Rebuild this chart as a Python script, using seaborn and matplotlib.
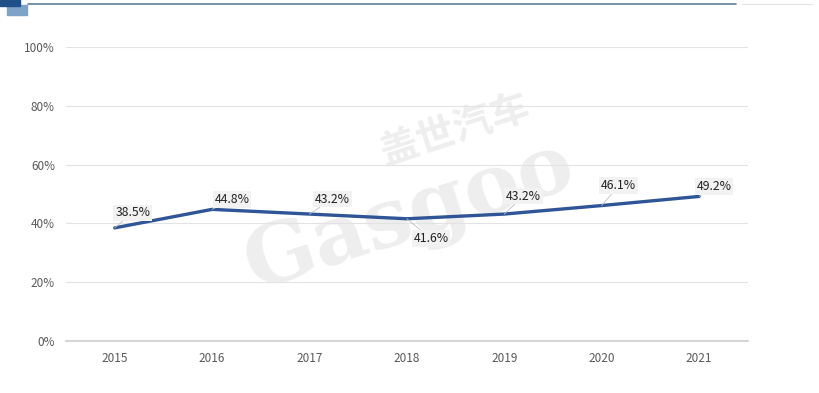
import matplotlib
matplotlib.use("Agg")
import matplotlib.pyplot as plt
import seaborn as sns
import pandas as pd

# data
years = ["2015", "2016", "2017", "2018", "2019", "2020", "2021"]
share = [38.5, 44.8, 43.2, 41.6, 43.2, 46.1, 49.2]
label_text = ["38.5%", "44.8%", "43.2%", "41.6%", "43.2%", "46.1%", "49.2%"]
# label offsets in pixels (dx, dy) from each point
label_dx = [18, 20, 23, 24, 19, 17, 15]
label_dy = [15, 10, 15, -20, 18, 20, 10]

df = pd.DataFrame({"year": years, "share": share})

sns.set_theme(style="white")
plt.rcParams["font.family"] = ["Noto Sans CJK SC", "DejaVu Sans"]

fig = plt.figure(figsize=(8.2, 3.93), dpi=100)
ax = fig.add_axes([0.0805, 0.1323, 0.8315, 0.7477])

# faint watermark behind the data
ax.text(0.50, 0.45, "Gasgoo", transform=fig.transFigure, fontsize=60,
        color="#eeeeee", rotation=18, ha="center", va="center",
        fontweight="bold", zorder=0.5, family="DejaVu Serif")
ax.text(0.555, 0.67, "盖世汽车", transform=fig.transFigure, fontsize=28,
        color="#eeeeee", rotation=18, ha="center", va="center",
        fontweight="bold", zorder=0.5)

sns.lineplot(data=df, x="year", y="share", ax=ax, color="#2F5597",
             linewidth=2.4, sort=False, zorder=3)

ax.set_xlim(-0.5, 6.5)
ax.set_ylim(0, 100)
ax.set_yticks([0, 20, 40, 60, 80, 100])
ax.set_yticklabels([f"{v}%" for v in [0, 20, 40, 60, 80, 100]])
ax.yaxis.grid(True, color="#e3e3e3", linewidth=0.8)
ax.set_axisbelow(True)
for s in ["top", "right", "left"]:
    ax.spines[s].set_visible(False)
ax.spines["bottom"].set_color("#d0d0d0")
ax.tick_params(axis="both", length=0, labelsize=8.5, labelcolor="#595959", pad=8)
ax.set_xlabel("")
ax.set_ylabel("")

# data labels with grey boxes and thin leader lines
for i, t in enumerate(label_text):
    ax.annotate(t, xy=(i, share[i]), xytext=(label_dx[i], label_dy[i]),
                textcoords="offset pixels", ha="center", va="center",
                fontsize=8.8, color="#222222", zorder=4,
                bbox=dict(boxstyle="square,pad=0.15", fc="#f2f2f2", ec="none"),
                arrowprops=dict(arrowstyle="-", color="#bfbfbf", lw=0.6,
                                shrinkA=0, shrinkB=0))

# header decoration
fig.patches.append(plt.Rectangle((0.0, 0.985), 0.024, 0.015, transform=fig.transFigure,
                                 color="#1f4e89", zorder=5))
fig.patches.append(plt.Rectangle((0.009, 0.962), 0.024, 0.026, transform=fig.transFigure,
                                 color="#7fa3c8", zorder=4))
fig.add_artist(plt.Line2D([0.034, 0.897], [0.99, 0.99], transform=fig.transFigure,
                          color="#5f7f95", linewidth=1.2))
fig.add_artist(plt.Line2D([0.905, 0.99], [0.99, 0.99], transform=fig.transFigure,
                          color="#dddddd", linewidth=0.6))

fig.savefig("out.png", dpi=100, facecolor="white")
